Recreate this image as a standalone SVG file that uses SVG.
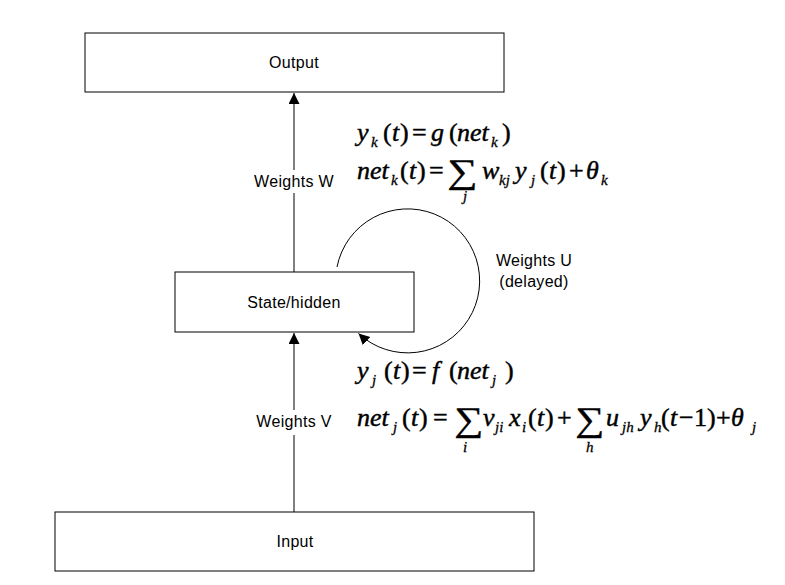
<svg xmlns="http://www.w3.org/2000/svg" width="785" height="585" viewBox="0 0 785 585">
<defs>
<style>
.box{fill:#fff;stroke:#000;stroke-width:1}
.lbl{font-family:"Liberation Sans",Arial,sans-serif;font-size:16px;letter-spacing:0.3px;fill:#000}
.c{text-anchor:middle}
.conn{fill:none;stroke:#000;stroke-width:1}
.eq{font-family:"Liberation Serif","Times New Roman",serif;font-size:26px;font-style:italic;fill:#000;stroke:#000;stroke-width:0.45px}
.up{font-style:normal}
.sub{font-size:15px;stroke-width:0.3px}
.sig{font-family:"Liberation Serif","DejaVu Serif",serif;font-style:normal;font-size:34px;fill:#000;stroke:#000;stroke-width:0.35px}
</style>
<marker id="ah" markerUnits="userSpaceOnUse" markerWidth="12" markerHeight="12" refX="11" refY="5.5" orient="auto">
<path d="M0,0 L11,5.5 L0,11 z" fill="#000"/>
</marker>
</defs>
<rect width="785" height="585" fill="#fff"/>

<g id="connectors">
<line class="conn" x1="294" y1="512" x2="294" y2="435"/>
<line class="conn" x1="294" y1="410" x2="294" y2="333" marker-end="url(#ah)"/>
<line class="conn" x1="294" y1="272" x2="294" y2="193"/>
<line class="conn" x1="294" y1="170" x2="294" y2="93" marker-end="url(#ah)"/>
<path class="conn" d="M337,267 A72,72 0 1 1 358.5,333.5" marker-end="url(#ah)"/>
</g>

<g id="output">
<rect class="box" x="85" y="33" width="419" height="59"/>
<text class="lbl c" x="294" y="68">Output</text>
</g>
<g id="state">
<rect class="box" x="175" y="272" width="239" height="60"/>
<text class="lbl c" x="294" y="308">State/hidden</text>
</g>
<g id="input">
<rect class="box" x="55" y="512" width="479" height="59"/>
<text class="lbl c" x="295" y="547">Input</text>
</g>

<g id="labels">
<text class="lbl c" x="294" y="187">Weights W</text>
<text class="lbl c" x="294" y="427">Weights V</text>
<text class="lbl c" x="534" y="266">Weights U</text>
<text class="lbl c" x="534" y="287">(delayed)</text>
</g>

<g id="equations">
<text class="eq" y="141"><tspan x="357">y</tspan><tspan class="sub" x="371" y="147">k</tspan><tspan class="up" x="383" y="141">(</tspan><tspan x="392">t</tspan><tspan class="up" x="400">)</tspan><tspan class="up" x="412">=</tspan><tspan x="431">g</tspan><tspan class="up" x="449">(</tspan><tspan x="457">net</tspan><tspan class="sub" x="491" y="147">k</tspan><tspan class="up" x="502" y="141">)</tspan></text>

<text class="eq" y="179"><tspan x="357">net</tspan><tspan class="sub" x="391" y="185">k</tspan><tspan class="up" x="400" y="179">(</tspan><tspan x="409">t</tspan><tspan class="up" x="417">)</tspan><tspan class="up" x="429">=</tspan><tspan class="sub" x="463" y="201">j</tspan><tspan x="482" y="179">w</tspan><tspan class="sub" x="499" y="185">kj</tspan><tspan x="515" y="179">y</tspan><tspan class="sub" x="531" y="185">j</tspan><tspan class="up" x="540" y="179">(</tspan><tspan x="549">t</tspan><tspan class="up" x="557">)</tspan><tspan class="up" x="569">+</tspan><tspan x="586">θ</tspan><tspan class="sub" x="601" y="185">k</tspan></text>
<text class="sig" transform="translate(447,183) scale(1.25,1)">∑</text>

<text class="eq" y="379"><tspan x="357">y</tspan><tspan class="sub" x="372" y="385">j</tspan><tspan class="up" x="384" y="379">(</tspan><tspan x="393">t</tspan><tspan class="up" x="401">)</tspan><tspan class="up" x="412">=</tspan><tspan x="432">f</tspan><tspan class="up" x="449">(</tspan><tspan x="457">net</tspan><tspan class="sub" x="492" y="385">j</tspan><tspan class="up" x="505" y="379">)</tspan></text>

<text class="eq" y="426"><tspan x="357">net</tspan><tspan class="sub" x="393" y="432">j</tspan><tspan class="up" x="402" y="426">(</tspan><tspan x="411">t</tspan><tspan class="up" x="419">)</tspan><tspan class="up" x="433">=</tspan><tspan class="sub" x="463" y="452">i</tspan><tspan x="483" y="426">v</tspan><tspan class="sub" x="495" y="432">ji</tspan><tspan x="509" y="426">x</tspan><tspan class="sub" x="522" y="432">i</tspan><tspan class="up" x="528" y="426">(</tspan><tspan x="537">t</tspan><tspan class="up" x="545">)</tspan><tspan class="up" x="557">+</tspan><tspan class="sub" x="586" y="452">h</tspan><tspan x="606" y="426">u</tspan><tspan class="sub" x="622" y="432">jh</tspan><tspan x="640" y="426">y</tspan><tspan class="sub" x="654" y="432">h</tspan><tspan class="up" x="661" y="426">(</tspan><tspan x="670">t</tspan><tspan class="up" x="679">−</tspan><tspan class="up" x="694">1</tspan><tspan class="up" x="707">)</tspan><tspan class="up" x="716">+</tspan><tspan x="731">θ</tspan><tspan class="sub" x="752" y="432">j</tspan></text>
<text class="sig" transform="translate(454,431) scale(1.2,1)">∑</text>
<text class="sig" transform="translate(575,431) scale(1.2,1)">∑</text>
</g>
</svg>
